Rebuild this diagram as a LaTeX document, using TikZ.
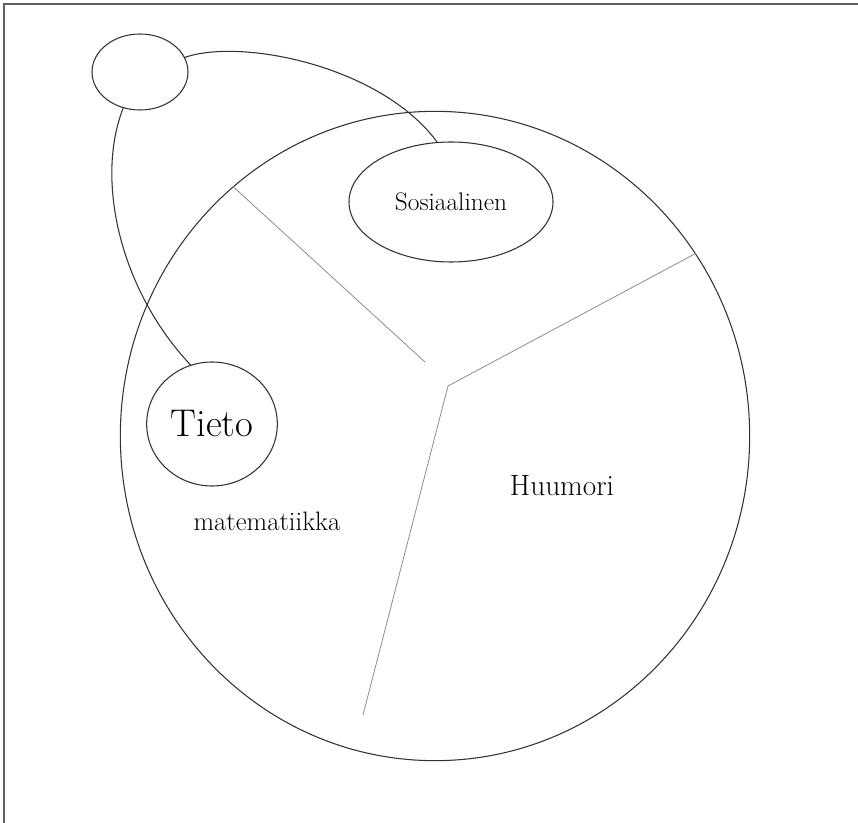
\documentclass[tikz,border=0pt]{standalone}
\usepackage{tikz}
\usetikzlibrary{shapes.geometric, positioning}
\definecolor{pencil}{HTML}{333333}
\definecolor{framegray}{HTML}{606060}
\tikzset{
    bubble/.style={ellipse, draw=pencil, thick, inner sep=0pt, text centered},
    divider/.style={draw=black!45, semithick},
    link/.style={draw=pencil, thick},
    label/.style={text=black, inner sep=0pt},
}

\begin{document}
\begin{tikzpicture}[x=0.75pt, y=-0.75pt]
        \useasboundingbox (0,0) rectangle (858,823);
        \draw[framegray, line width=1.5pt] (4,823) -- (4,4) -- (858,4);

        % whole and its three parts
        \node[bubble, minimum width=472pt, minimum height=487pt] (whole) at (435,436) {};
        \coordinate (hubA) at (425,362);
        \coordinate (hub) at (448,386);
        \coordinate (tail) at (363,715);
        \draw[divider] (whole.129) -- (hubA);
        \draw[divider] (hub) -- (whole.35);
        \draw[divider] (hub) -- (tail);

        \node[bubble, minimum width=72pt, minimum height=57pt] (anchor) at (140,72) {};
        \node[bubble, minimum width=153pt, minimum height=90pt, font=\fontsize{19}{21}\selectfont] (sos) at (451,202) {Sosiaalinen};
        \node[bubble, minimum width=98pt, minimum height=93pt, font=\fontsize{29}{31}\selectfont] (tieto) at (212,424) {Tieto};
        \node[label, font=\fontsize{20}{22}\selectfont] (mat) at (267,521) {matematiikka};
        \node[label, font=\fontsize{22}{24}\selectfont] (huumori) at (562,486) {Huumori};

        \draw[link] (anchor.18) .. controls (240,38) and (380,65) .. (sos.103);
        \draw[link] (anchor.245) .. controls (95,180) and (120,290) .. (tieto.110);
    \end{tikzpicture}
\end{document}
